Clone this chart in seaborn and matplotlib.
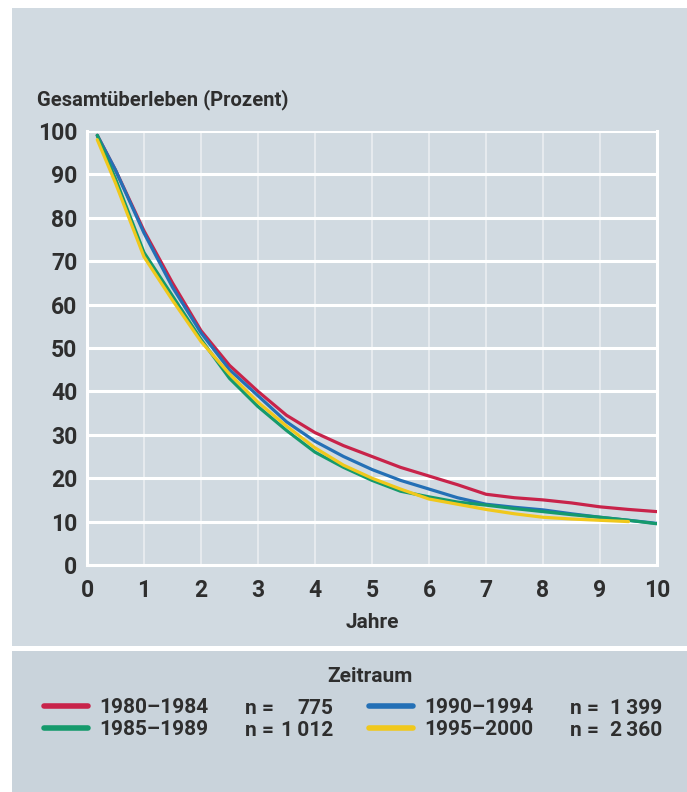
import numpy as np
import pandas as pd
import matplotlib
matplotlib.use("Agg")
import matplotlib.pyplot as plt
import seaborn as sns
from matplotlib.patches import Rectangle
from matplotlib.lines import Line2D

# Werte
jahre = [0.18, 0.5, 1, 1.5, 2, 2.5, 3, 3.5, 4, 4.5, 5, 5.5, 6, 6.5, 7, 7.5, 8, 8.5, 9, 9.5, 10]
jahre_gelb = jahre[:-1]

rot_1980 = [99, 91, 77, 65, 54, 46, 40, 34.5, 30.5, 27.5, 25, 22.5, 20.5, 18.5, 16.3, 15.5, 15, 14.3, 13.4, 12.8, 12.3]
gruen_1985 = [99, 89, 72, 62, 52, 43, 36.5, 31, 26, 22.5, 19.5, 17, 15.7, 14.5, 13.8, 13, 12.3, 11.6, 11, 10.3, 9.5]
blau_1990 = [99, 91, 76.5, 64, 53.5, 45, 39, 33, 28.5, 25, 22, 19.5, 17.5, 15.5, 14, 13.3, 12.7, 11.8, 11, 10.3, 9.6]
gelb_1995 = [98, 88, 71, 61, 51.5, 44, 37.5, 32, 27, 23, 20, 17.5, 15.2, 14, 12.8, 11.8, 11, 10.6, 10.3, 10]

zeitraeume = ["1980–1984", "1985–1989", "1990–1994", "1995–2000"]
fallzahlen = ["775", "1\u2009012", "1\u2009399", "2\u2009360"]
farben = {"1980–1984": "#c8234a", "1985–1989": "#159a6c",
          "1990–1994": "#2470b6", "1995–2000": "#f0c81c"}

y_ticks = list(range(0, 101, 10))
x_ticks = list(range(0, 11))

df = pd.concat([
    pd.DataFrame({"Jahre": jahre, "Ueberleben": rot_1980, "Zeitraum": zeitraeume[0]}),
    pd.DataFrame({"Jahre": jahre, "Ueberleben": gruen_1985, "Zeitraum": zeitraeume[1]}),
    pd.DataFrame({"Jahre": jahre, "Ueberleben": blau_1990, "Zeitraum": zeitraeume[2]}),
    pd.DataFrame({"Jahre": jahre_gelb, "Ueberleben": gelb_1995, "Zeitraum": zeitraeume[3]}),
], ignore_index=True)

bg = "#d1dae1"
text_col = "#2e2e2e"
fs = 15

sns.set_theme(style="white")
plt.rcParams['font.family'] = ['Roboto', 'DejaVu Sans']
plt.rcParams['font.weight'] = 'bold'

fig = plt.figure(figsize=(6.87, 7.92), dpi=100, facecolor=bg)
W, H = 687, 792

def fx(px):
    return px / W

def fy(py):
    return 1 - py / H

# Legendenbereich etwas dunkler, weisse Trennlinie, weisser Rand oben/links
fig.patches.append(Rectangle((0, 0), 1, fy(650), transform=fig.transFigure,
                             facecolor="#c9d3db", edgecolor="none", zorder=0))
fig.patches.append(Rectangle((0, fy(651)), 1, 5 / H, transform=fig.transFigure,
                             facecolor="white", edgecolor="none", zorder=1))
fig.patches.append(Rectangle((0, 0), 12 / W, 1, transform=fig.transFigure,
                             facecolor="white", edgecolor="none", zorder=2))
fig.patches.append(Rectangle((0, fy(8)), 1, 8 / H, transform=fig.transFigure,
                             facecolor="white", edgecolor="none", zorder=2))

ax = fig.add_axes([fx(87), fy(565), fx(657) - fx(87), fy(131) - fy(565)])
ax.set_facecolor(bg)

sns.lineplot(data=df, x="Jahre", y="Ueberleben", hue="Zeitraum", palette=farben,
             hue_order=[zeitraeume[0], zeitraeume[2], zeitraeume[1], zeitraeume[3]],
             linewidth=2.3, legend=False, ax=ax, zorder=3)

ax.set_xlim(0, 10)
ax.set_ylim(0, 100)
ax.set_xticks(x_ticks)
ax.set_yticks(y_ticks)
ax.set_xticklabels([str(t) for t in x_ticks])
ax.set_yticklabels([str(t) for t in y_ticks])
ax.tick_params(axis="both", length=0, labelsize=16.5, colors=text_col)
ax.tick_params(axis="y", pad=7)
ax.tick_params(axis="x", pad=10)

ax.grid(False)
for y in y_ticks[1:]:
    ax.axhline(y, color="white", linewidth=2.2, zorder=1)
for x in x_ticks[1:-1]:
    ax.axvline(x, color="white", linewidth=1.2, alpha=0.55, zorder=1)

for side in ["left", "bottom", "right"]:
    ax.spines[side].set_color("white")
    ax.spines[side].set_linewidth(2.2)
ax.spines["top"].set_visible(False)

ax.set_xlabel("Jahre", fontsize=fs, color=text_col, labelpad=8, fontweight="bold")
ax.set_ylabel("")
fig.text(fx(37), fy(100), "Gesamtüberleben (Prozent)", fontsize=14.5,
         color=text_col, va="center", ha="left", fontweight="bold")

# Legende
fig.text(fx(370), fy(677), "Zeitraum", fontsize=fs, color=text_col,
         ha="center", va="center", fontweight="bold")

for col, idx in enumerate([(0, 1), (2, 3)]):
    handles = [Line2D([0], [0], color=farben[zeitraeume[i]], linewidth=4) for i in idx]
    labels = [zeitraeume[i] for i in idx]
    x0 = [44, 369][col]
    leg = fig.legend(handles, labels, loc="upper left",
                     bbox_to_anchor=(fx(x0), fy(698)), frameon=False,
                     fontsize=fs, handlelength=2.1, handletextpad=0.55,
                     labelspacing=0.15, borderpad=0, borderaxespad=0)
    for t in leg.get_texts():
        t.set_color(text_col)
        t.set_fontweight("bold")

n_x = [245, 245, 570, 570]
zahl_x = [333, 333, 662, 662]
reihe_y = [708, 730, 708, 730]
for i in range(4):
    fig.text(fx(n_x[i]), fy(reihe_y[i]), "n =", fontsize=fs, color=text_col,
             ha="left", va="center", fontweight="bold")
    fig.text(fx(zahl_x[i]), fy(reihe_y[i]), fallzahlen[i], fontsize=fs, color=text_col,
             ha="right", va="center", fontweight="bold")

fig.savefig("out.png", dpi=100, facecolor=bg)
